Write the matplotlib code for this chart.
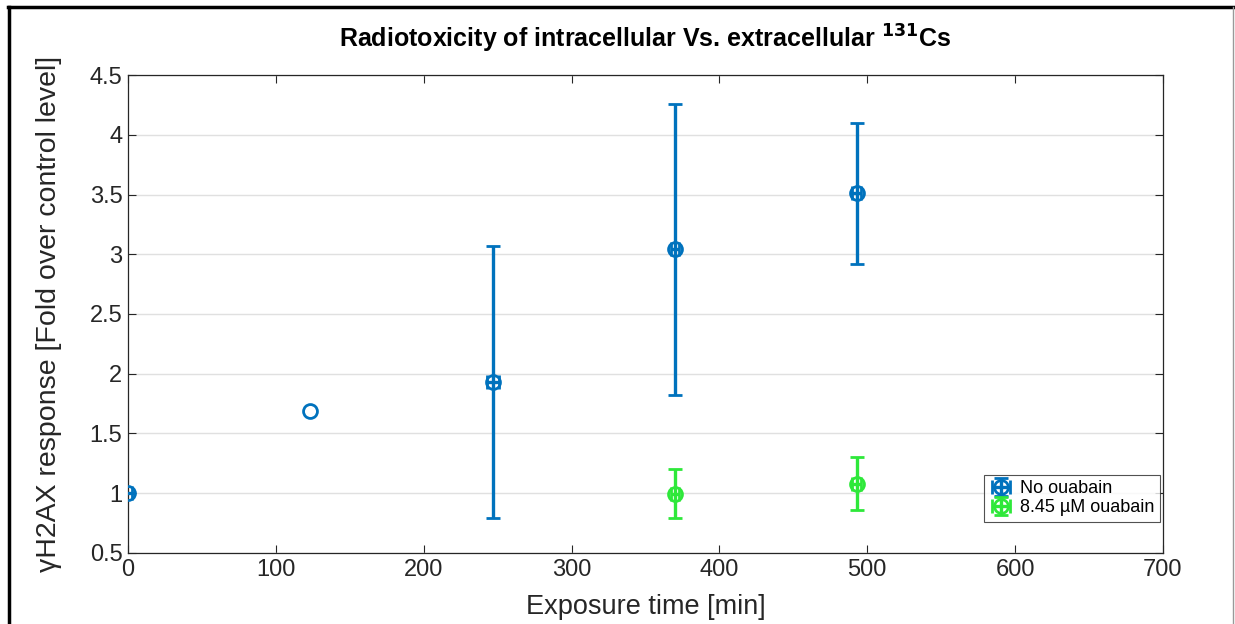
import numpy as np
import matplotlib
matplotlib.use('Agg')
import matplotlib.pyplot as plt
from matplotlib.lines import Line2D

plt.rcParams['font.family'] = ['Liberation Sans', 'DejaVu Sans']

# no ouabain
t_no = [0, 123, 247, 370, 493]
y_no = [1.0, 1.69, 1.93, 3.04, 3.51]
y_no_lo = [1.0, np.nan, 0.79, 1.82, 2.92]
y_no_hi = [1.0, np.nan, 3.07, 4.26, 4.10]
t_no_err = [3, np.nan, 4, 3, 3]

# 8.45 uM ouabain
t_ou = [370, 493]
y_ou = [0.99, 1.08]
y_ou_lo = [0.79, 0.86]
y_ou_hi = [1.20, 1.30]
t_ou_err = [3, 3]

blue = '#0072BD'
green = '#2ee83a'

fig = plt.figure(figsize=(12.35, 6.24), dpi=100)
ax = fig.add_axes([0.1036, 0.1138, 0.8381, 0.766])

def draw(t, y, lo, hi, terr, col, lab):
    y = np.array(y); lo = np.array(lo); hi = np.array(hi)
    yerr = np.vstack([y - lo, hi - y])
    ax.errorbar(t, y, yerr=yerr, xerr=terr, fmt='o', color=col, ecolor=col,
                markerfacecolor='none', markeredgecolor=col, markersize=10,
                markeredgewidth=2, elinewidth=2.4, capsize=5, capthick=2.4,
                label=lab, zorder=3)

draw(t_no, y_no, y_no_lo, y_no_hi, t_no_err, blue, 'No ouabain')
draw(t_ou, y_ou, y_ou_lo, y_ou_hi, t_ou_err, green, '8.45 \u00b5M ouabain')

ax.set_xlim(0, 700)
ax.set_ylim(0.5, 4.5)
ax.set_xticks(np.arange(0, 701, 100))
ax.set_yticks(np.arange(0.5, 4.51, 0.5))
ax.set_yticklabels(['0.5', '1', '1.5', '2', '2.5', '3', '3.5', '4', '4.5'])
ax.yaxis.grid(True, color='#e0e0e0', linewidth=1)
ax.set_axisbelow(True)
ax.tick_params(direction='in', top=True, right=True, labelsize=17,
               colors='#262626', length=6, pad=4)
for s in ax.spines.values():
    s.set_color('#262626')
    s.set_linewidth(0.9)

ax.set_xlabel('Exposure time [min]', fontsize=19.5, color='#262626', labelpad=10)
ax.set_ylabel('\u03b3H2AX response [Fold over control level]', fontsize=20.5,
              color='#262626', labelpad=20)
ax.set_title('Radiotoxicity of intracellular Vs. extracellular $^{\\mathbf{131}}$Cs',
             fontsize=18, fontweight='bold', pad=20)

leg = ax.legend(loc='lower right', bbox_to_anchor=(0.999, 0.062), fontsize=13,
                frameon=True, fancybox=False, edgecolor='#262626',
                borderpad=0.3, handletextpad=0.4, handlelength=1.3,
                labelspacing=0.1, borderaxespad=0.1)
leg.get_frame().set_linewidth(0.8)

# outer border of the picture
fig.add_artist(Line2D([0.0073, 0.0073], [0.0, 0.9888], color='black', lw=2.5))
fig.add_artist(Line2D([0.0065, 0.9985], [0.9888, 0.9888], color='black', lw=2.5))
fig.add_artist(Line2D([0.9985, 0.9985], [0.0, 0.9888], color='#999999', lw=1))

fig.savefig('out.png', dpi=100)
